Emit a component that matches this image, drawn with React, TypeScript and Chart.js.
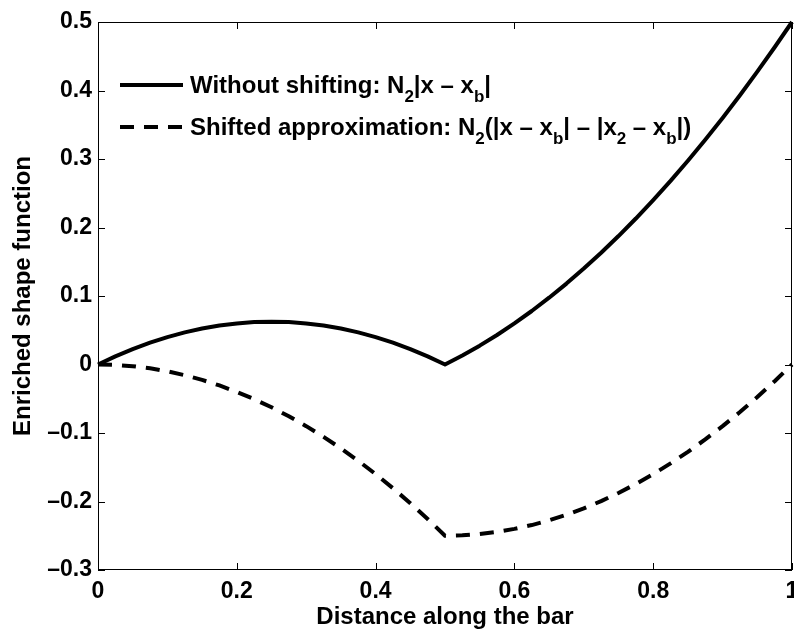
import React, { useEffect, useRef } from 'react';
import { Chart, registerables } from 'chart.js';

Chart.register(...registerables);

// ---- data ----
const xValues = [
  0, 0.025, 0.05, 0.075, 0.1, 0.125, 0.15, 0.175, 0.2, 0.225, 0.25, 0.275, 0.3, 0.325, 0.35, 0.375, 0.4,
  0.425, 0.45, 0.475, 0.5, 0.525, 0.55, 0.575, 0.6, 0.625, 0.65, 0.675, 0.7, 0.725, 0.75, 0.775, 0.8,
  0.825, 0.85, 0.875, 0.9, 0.925, 0.95, 0.975, 1,
];
const withoutShifting = [
  0, 0.0119, 0.0225, 0.0319, 0.04, 0.0469, 0.0525, 0.0569, 0.06, 0.0619, 0.0625, 0.0619, 0.06, 0.0569,
  0.0525, 0.0469, 0.04, 0.0319, 0.0225, 0.0119, 0, 0.0131, 0.0275, 0.0431, 0.06, 0.0781, 0.0975, 0.1181,
  0.14, 0.1631, 0.1875, 0.2131, 0.24, 0.2681, 0.2975, 0.3281, 0.36, 0.3931, 0.4275, 0.4631, 0.5,
];
const shiftedApproximation = [
  0, -0.0006, -0.0025, -0.0056, -0.01, -0.0156, -0.0225, -0.0306, -0.04, -0.0506, -0.0625, -0.0756, -0.09,
  -0.1056, -0.1225, -0.1406, -0.16, -0.1806, -0.2025, -0.2256, -0.25, -0.2494, -0.2475, -0.2444, -0.24,
  -0.2344, -0.2275, -0.2194, -0.21, -0.1994, -0.1875, -0.1744, -0.16, -0.1444, -0.1275, -0.1094, -0.09,
  -0.0694, -0.0475, -0.0244, 0,
];
const xTickValues = [0, 0.2, 0.4, 0.6, 0.8, 1];
const xTickLabels = ['0', '0.2', '0.4', '0.6', '0.8', '1'];
const yTickValues = [-0.3, -0.2, -0.1, 0, 0.1, 0.2, 0.3, 0.4, 0.5];
const yTickLabels = ['\u20130.3', '\u20130.2', '\u20130.1', '0', '0.1', '0.2', '0.3', '0.4', '0.5'];
const xAxisTitle = 'Distance along the bar';
const yAxisTitle = 'Enriched shape function';
const seriesNames = ['Without shifting', 'Shifted approximation'];
const legendSolidLabel = [
  { t: 'Without shifting: N' }, { t: '2', sub: true }, { t: '|x \u2013 x' }, { t: 'b', sub: true }, { t: '|' },
];
const legendDashedLabel = [
  { t: 'Shifted approximation: N' }, { t: '2', sub: true }, { t: '(|x \u2013 x' }, { t: 'b', sub: true },
  { t: '| \u2013 |x' }, { t: '2', sub: true }, { t: ' \u2013 x' }, { t: 'b', sub: true }, { t: '|)' },
];

const FONT = '"Liberation Sans", Arial, Helvetica, sans-serif';
const DASH = [14, 10];

const framePlugin = {
  id: 'matlabFrame',
  afterDatasetsDraw(chart: any) {
    const { ctx, chartArea: a, scales } = chart;
    const xs = scales.x;
    const ys = scales.y;
    ctx.save();
    ctx.strokeStyle = '#000';
    ctx.lineWidth = 1;
    ctx.setLineDash([]);
    ctx.strokeRect(a.left + 0.5, a.top + 0.5, a.right - a.left - 1, a.bottom - a.top - 1);
    const tl = 7;
    ctx.beginPath();
    xTickValues.forEach((v) => {
      const px = Math.round(xs.getPixelForValue(v)) + 0.5;
      ctx.moveTo(px, a.bottom);
      ctx.lineTo(px, a.bottom - tl);
      ctx.moveTo(px, a.top);
      ctx.lineTo(px, a.top + tl);
    });
    yTickValues.forEach((v) => {
      const py = Math.round(ys.getPixelForValue(v)) + 0.5;
      ctx.moveTo(a.left, py);
      ctx.lineTo(a.left + tl, py);
      ctx.moveTo(a.right, py);
      ctx.lineTo(a.right - tl, py);
    });
    ctx.stroke();

    // legend (no box), with subscripts
    const rows = [
      { dash: [] as number[], parts: legendSolidLabel, dy: 63 },
      { dash: DASH, parts: legendDashedLabel, dy: 105 },
    ];
    const big = 'bold 24px ' + FONT;
    const small = 'bold 17px ' + FONT;
    rows.forEach((r) => {
      const cy = a.top + r.dy;
      ctx.beginPath();
      ctx.lineWidth = 4;
      ctx.lineCap = 'butt';
      ctx.setLineDash(r.dash);
      ctx.moveTo(a.left + 22, cy);
      ctx.lineTo(a.left + 85, cy);
      ctx.stroke();
      ctx.setLineDash([]);
      ctx.fillStyle = '#000';
      ctx.textBaseline = 'alphabetic';
      ctx.textAlign = 'left';
      let x = a.left + 92;
      const base = cy + 8;
      r.parts.forEach((p: any) => {
        ctx.font = p.sub ? small : big;
        ctx.fillText(p.t, x, p.sub ? base + 9 : base);
        x += ctx.measureText(p.t).width;
      });
    });
    ctx.restore();
  },
};

export default function App() {
  const ref = useRef<HTMLCanvasElement | null>(null);
  useEffect(() => {
    if (!ref.current) return;
    const chart = new Chart(ref.current, {
      type: 'line',
      data: {
        datasets: [
          {
            label: seriesNames[0],
            data: xValues.map((x, i) => ({ x, y: withoutShifting[i] })),
            borderColor: '#000',
            borderWidth: 4,
            pointRadius: 0,
            fill: false,
            clip: false as any,
            borderJoinStyle: 'round',
          },
          {
            label: seriesNames[1],
            data: xValues.map((x, i) => ({ x, y: shiftedApproximation[i] })),
            borderColor: '#000',
            borderWidth: 4,
            borderDash: DASH,
            pointRadius: 0,
            fill: false,
            clip: false as any,
            borderJoinStyle: 'round',
          },
        ],
      },
      options: {
        responsive: false,
        animation: false,
        layout: { padding: { left: 0, top: 22, right: 2, bottom: 0 } },
        plugins: { legend: { display: false }, tooltip: { enabled: false } },
        scales: {
          x: {
            type: 'linear',
            min: 0,
            max: 1,
            grid: { display: false, drawTicks: false },
            border: { display: false },
            afterBuildTicks: (s: any) => { s.ticks = xTickValues.map((v) => ({ value: v })); },
            afterFit: (s: any) => {
              s.height = 62;
              s.paddingLeft = 0;
              s.paddingRight = 0;
            },
            ticks: {
              autoSkip: false,
              maxRotation: 0,
              padding: 8,
              color: '#000',
              font: { family: FONT, size: 23, weight: 'bold' },
              callback: (_v: any, i: number) => xTickLabels[i],
            },
            title: {
              display: true,
              text: xAxisTitle,
              color: '#000',
              font: { family: FONT, size: 24, weight: 'bold' },
              padding: { top: 0, bottom: 0 },
            },
          },
          y: {
            type: 'linear',
            min: -0.3,
            max: 0.5,
            grid: { display: false, drawTicks: false },
            border: { display: false },
            afterBuildTicks: (s: any) => { s.ticks = yTickValues.map((v) => ({ value: v })); },
            afterFit: (s: any) => {
              s.width = 98;
              s.paddingTop = 0;
              s.paddingBottom = 0;
            },
            ticks: {
              autoSkip: false,
              padding: 6,
              color: '#000',
              font: { family: FONT, size: 23, weight: 'bold' },
              callback: (_v: any, i: number) => yTickLabels[i],
            },
            title: {
              display: true,
              text: yAxisTitle,
              color: '#000',
              font: { family: FONT, size: 24, weight: 'bold' },
              padding: { top: 9, bottom: 0 },
            },
          },
        },
      },
      plugins: [framePlugin],
    } as any);
    return () => chart.destroy();
  }, []);
  return (
    <div style={{ position: 'absolute', left: 0, top: 0, width: 794, height: 632, background: '#fff' }}>
      <canvas ref={ref} width={794} height={632} style={{ display: 'block' }} />
    </div>
  );
}
